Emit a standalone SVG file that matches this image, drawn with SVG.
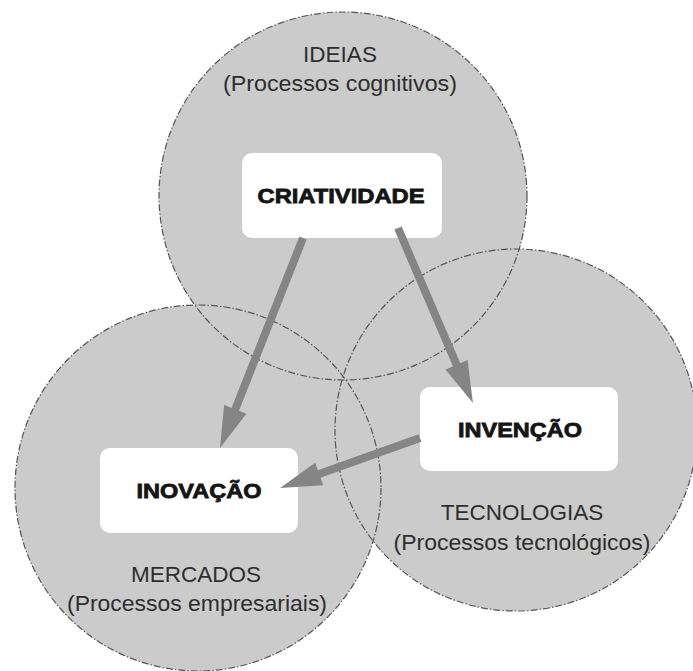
<svg xmlns="http://www.w3.org/2000/svg" width="693" height="671" viewBox="0 0 693 671">
<style>
.fill{fill:#cbcbcb;stroke:none}
.ring{fill:none;stroke:#555;stroke-width:1.2;stroke-dasharray:7 2 1.5 2}
.lbl{font-family:"Liberation Sans",Arial,sans-serif;font-size:22.5px;fill:#2e2e2e;text-anchor:middle}
.box{fill:#fff}
.bold{font-family:"Liberation Sans",Arial,sans-serif;font-size:21px;font-weight:bold;fill:#151515;stroke:#151515;stroke-width:0.8;text-anchor:middle}
.arr{stroke:#858585;stroke-width:8;fill:none;marker-end:url(#ah)}
</style>
<defs>
<marker id="ah" markerUnits="strokeWidth" markerWidth="6" markerHeight="4" viewBox="0 -2 6 4" refX="0" refY="0" orient="auto" overflow="visible">
<path d="M-0.2,-1.5 L5,0 L-0.2,1.5 z" fill="#858585"/>
</marker>
</defs>
<rect width="693" height="671" fill="#fff"/>
<g id="circle-fills">
<circle class="fill" cx="343" cy="196" r="184"/>
<circle class="fill" cx="198" cy="488" r="183"/>
<circle class="fill" cx="516" cy="430" r="181"/>
</g>
<g id="ideias">
<circle class="ring" cx="343" cy="196" r="184"/>
<text class="lbl" x="340" y="62">IDEIAS</text>
<text class="lbl" x="340" y="91" textLength="234" lengthAdjust="spacingAndGlyphs">(Processos cognitivos)</text>
</g>
<g id="mercados">
<circle class="ring" cx="198" cy="488" r="183"/>
<text class="lbl" x="196" y="582">MERCADOS</text>
<text class="lbl" x="197" y="611" textLength="260" lengthAdjust="spacingAndGlyphs">(Processos empresariais)</text>
</g>
<g id="tecnologias">
<circle class="ring" cx="516" cy="430" r="181"/>
<text class="lbl" x="522" y="520">TECNOLOGIAS</text>
<text class="lbl" x="522" y="550" textLength="257" lengthAdjust="spacingAndGlyphs">(Processos tecnológicos)</text>
</g>
<g id="criatividade">
<rect class="box" x="242" y="153" width="200" height="85" rx="10"/>
<text class="bold" x="341" y="203" textLength="167" lengthAdjust="spacingAndGlyphs">CRIATIVIDADE</text>
</g>
<g id="inovacao">
<rect class="box" x="100" y="448" width="198" height="85" rx="10"/>
<text class="bold" x="199" y="498" textLength="125" lengthAdjust="spacingAndGlyphs">INOVAÇÃO</text>
</g>
<g id="invencao">
<rect class="box" x="420" y="387" width="198" height="84" rx="10"/>
<text class="bold" x="520" y="437" textLength="124" lengthAdjust="spacingAndGlyphs">INVENÇÃO</text>
</g>
<g id="connectors">
<line class="arr" x1="303" y1="238" x2="234.7" y2="410.8"/>
<line class="arr" x1="398" y1="228" x2="457.2" y2="366.2"/>
<line class="arr" x1="420" y1="438" x2="317.7" y2="474.6"/>
</g>
</svg>
